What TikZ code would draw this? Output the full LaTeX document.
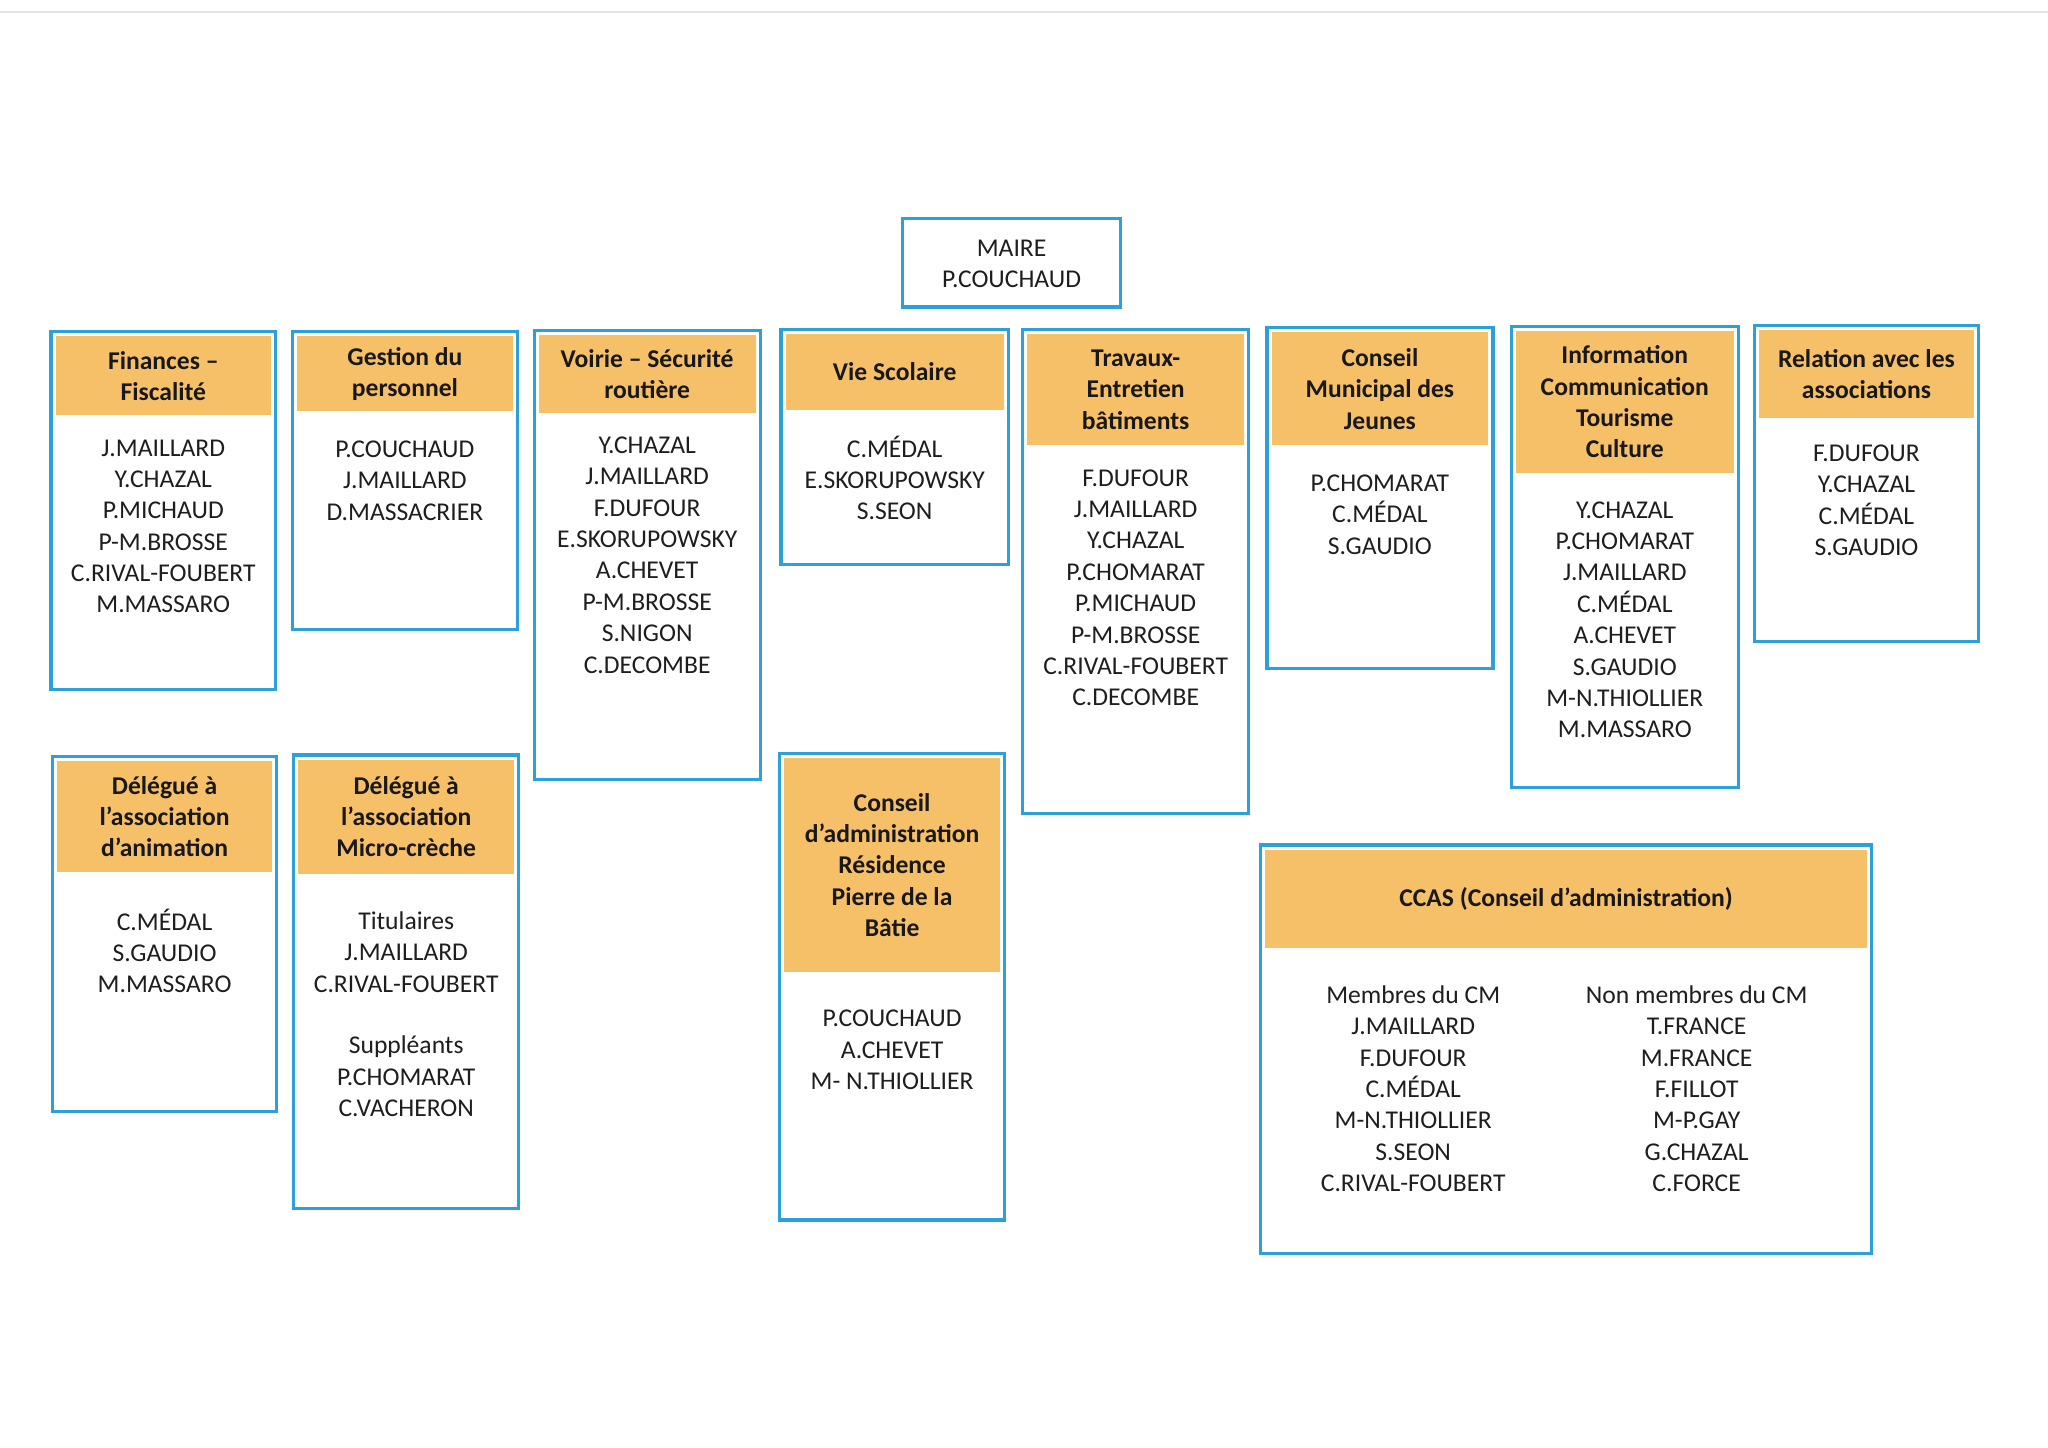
\documentclass[tikz,border=0pt]{standalone}
\usepackage{fontspec}
\setmainfont{Carlito}
\usetikzlibrary{fit}
\definecolor{bluec}{RGB}{45,160,218}
\definecolor{orangec}{RGB}{246,192,104}
\definecolor{txtc}{RGB}{30,30,30}
\tikzset{
  frame/.style={draw=bluec, line width=0.8pt, inner sep=0pt, fill=white},
  headfill/.style={fill=orangec, draw=none, inner sep=0pt},
  bodytxt/.style={align=center, text=txtc, inner sep=0pt, font=\fontsize{6.4pt}{7.84pt}\selectfont},
  headtxt/.style={align=center, text=txtc!80!black, inner sep=0pt, font=\fontsize{6.4pt}{7.84pt}\selectfont\bfseries}
}
\newcommand\orgbox[6]{%
  \node[frame, fit={(#2,#3) (#4,#5)}] (#1) {};
  \node[headfill, fit={(#2+3.5,#3+3.5) (#4-3.5,#6)}] (#1-h) {};
}
\begin{document}
\begin{tikzpicture}[x=0.32653pt, y=-0.32653pt]
\useasboundingbox (0,0) rectangle (1568,1108.6);
\draw[black!10, line width=0.6pt] (0,9) -- (1568,9);

% Maire
\node[frame, fit={(691,167) (858,235)}] (maire) {};
\node[bodytxt] (maire-t) at (774.5,202) {MAIRE\\P.COUCHAUD};

% 1 Finances
\orgbox{fin}{39}{254}{211}{528}{318}
\node[headtxt] at (fin-h.center) {Finances –\\Fiscalité};
\node[bodytxt] (fin-t) at (125,403) {J.MAILLARD\\Y.CHAZAL\\P.MICHAUD\\P-M.BROSSE\\C.RIVAL-FOUBERT\\M.MASSARO};

% 2 Gestion
\orgbox{ges}{224}{254}{396}{482}{315}
\node[headtxt] at (ges-h.center) {Gestion du\\personnel};
\node[bodytxt] (ges-t) at (310,368) {P.COUCHAUD\\J.MAILLARD\\D.MASSACRIER};

% 3 Voirie
\orgbox{voi}{409}{253}{582}{597}{316}
\node[headtxt] at (voi-h.center) {Voirie – Sécurité\\routière};
\node[bodytxt] (voi-t) at (495.5,425) {Y.CHAZAL\\J.MAILLARD\\F.DUFOUR\\E.SKORUPOWSKY\\A.CHEVET\\P-M.BROSSE\\S.NIGON\\C.DECOMBE};

% 4 Vie Scolaire
\orgbox{vie}{598}{252}{772}{432}{314}
\node[headtxt] at (vie-h.center) {Vie Scolaire};
\node[bodytxt] (vie-t) at (685,366) {C.MÉDAL\\E.SKORUPOWSKY\\S.SEON};

% 5 Travaux
\orgbox{tra}{783}{252}{956}{623}{341}
\node[headtxt] at (tra-h.center) {Travaux-\\Entretien\\bâtiments};
\node[bodytxt] (tra-t) at (869.5,450) {F.DUFOUR\\J.MAILLARD\\Y.CHAZAL\\P.CHOMARAT\\P.MICHAUD\\P-M.BROSSE\\C.RIVAL-FOUBERT\\C.DECOMBE};

% 6 Conseil Municipal des Jeunes
\orgbox{cmj}{970}{251}{1143}{512}{341}
\node[headtxt] at (cmj-h.center) {Conseil\\Municipal des\\Jeunes};
\node[bodytxt] (cmj-t) at (1056.5,394) {P.CHOMARAT\\C.MÉDAL\\S.GAUDIO};

% 7 Information
\orgbox{inf}{1157}{250}{1331}{603}{362}
\node[headtxt] at (inf-h.center) {Information\\Communication\\Tourisme\\Culture};
\node[bodytxt] (inf-t) at (1244,474.5) {Y.CHAZAL\\P.CHOMARAT\\J.MAILLARD\\C.MÉDAL\\A.CHEVET\\S.GAUDIO\\M-N.THIOLLIER\\M.MASSARO};

% 8 Relation
\orgbox{rel}{1343}{249}{1515}{491}{320}
\node[headtxt] at (rel-h.center) {Relation avec les\\associations};
\node[bodytxt] (rel-t) at (1429,383) {F.DUFOUR\\Y.CHAZAL\\C.MÉDAL\\S.GAUDIO};

% 9 Delegue animation
\orgbox{ani}{40}{579}{212}{851}{668}
\node[headtxt] at (ani-h.center) {Délégué à\\l’association\\d’animation};
\node[bodytxt] (ani-t) at (126,728) {C.MÉDAL\\S.GAUDIO\\M.MASSARO};

% 10 Micro-creche
\orgbox{mic}{225}{578}{397}{925}{669}
\node[headtxt] at (mic-h.center) {Délégué à\\l’association\\Micro-crèche};
\node[bodytxt] (mic-t) at (311,776.5) {Titulaires\\J.MAILLARD\\C.RIVAL-FOUBERT\\[7.6pt]Suppléants\\P.CHOMARAT\\C.VACHERON};

% 11 Residence
\orgbox{res}{597}{577}{769}{934}{744}
\node[headtxt] at (res-h.center) {Conseil\\d’administration\\Résidence\\Pierre de la\\Bâtie};
\node[bodytxt] (res-t) at (683,804) {P.COUCHAUD\\A.CHEVET\\M- N.THIOLLIER};

% 12 CCAS
\orgbox{ccas}{965}{647}{1433}{960}{726}
\node[headtxt] at (ccas-h.center) {CCAS (Conseil d’administration)};
\node[bodytxt] (ccas-l) at (1082,833.5) {Membres du CM\\J.MAILLARD\\F.DUFOUR\\C.MÉDAL\\M-N.THIOLLIER\\S.SEON\\C.RIVAL-FOUBERT};
\node[bodytxt] (ccas-r) at (1299,833.5) {Non membres du CM\\T.FRANCE\\M.FRANCE\\F.FILLOT\\M-P.GAY\\G.CHAZAL\\C.FORCE};
\end{tikzpicture}
\end{document}
